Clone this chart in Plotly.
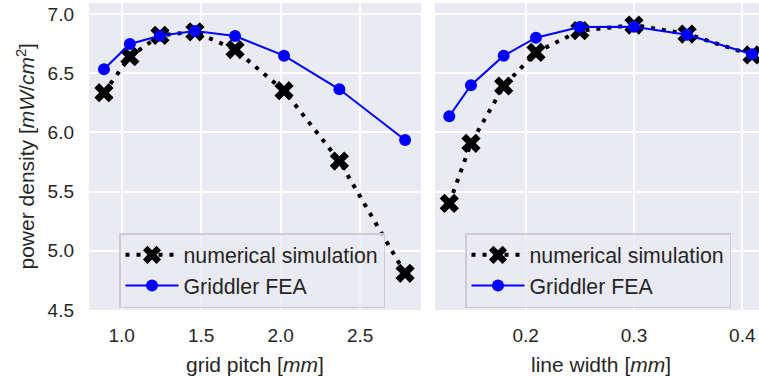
import plotly.graph_objects as go

# ---- data ----
pitch = [0.889, 1.052, 1.241, 1.461, 1.713, 2.021, 2.369, 2.782]
pitch_sim = [6.335, 6.64, 6.82, 6.85, 6.70, 6.352, 5.758, 4.81]
pitch_fea = [6.533, 6.747, 6.817, 6.856, 6.814, 6.648, 6.364, 5.936]

width = [0.1295, 0.1495, 0.1797, 0.2095, 0.250, 0.300, 0.349, 0.409]
width_sim = [5.401, 5.908, 6.392, 6.676, 6.859, 6.907, 6.831, 6.654]
width_fea = [6.136, 6.398, 6.648, 6.80, 6.89, 6.893, 6.825, 6.66]

W, H = 759, 377
BG = "#EAEAF2"
TXT = "#262626"
FONT = "Liberation Sans, Arial, sans-serif"

def px_x(p):
    return p / W

def px_y(p):
    return 1 - p / H

fig = go.Figure()

sim_style = dict(mode="lines+markers",
                 line=dict(color="black", width=4, dash="4px,7px"),
                 marker=dict(symbol="x", size=17, color="black", line=dict(width=0)))
fea_style = dict(mode="lines+markers",
                 line=dict(color="#0000FF", width=2),
                 marker=dict(symbol="circle", size=12, color="#0000FF", line=dict(width=0)))

fig.add_trace(go.Scatter(x=pitch, y=pitch_sim, name="numerical simulation",
                         xaxis="x", yaxis="y", legend="legend", **sim_style))
fig.add_trace(go.Scatter(x=pitch, y=pitch_fea, name="Griddler FEA",
                         xaxis="x", yaxis="y", legend="legend", **fea_style))
fig.add_trace(go.Scatter(x=width, y=width_sim, name="numerical simulation",
                         xaxis="x2", yaxis="y2", legend="legend2", **sim_style))
fig.add_trace(go.Scatter(x=width, y=width_fea, name="Griddler FEA",
                         xaxis="x2", yaxis="y2", legend="legend2", **fea_style))

ydom = [px_y(310), px_y(3)]
axis_common = dict(showgrid=True, gridcolor="white", gridwidth=1.6, zeroline=False,
                   showline=False, ticks="", automargin=False,
                   tickfont=dict(size=19, color=TXT, family=FONT))

leg_common = dict(bgcolor="rgba(234,234,242,0.8)", bordercolor="#CCCCCC", borderwidth=1.5,
                  font=dict(size=21.3, color=TXT, family=FONT), xanchor="left", yanchor="top",
                  tracegroupgap=0, itemwidth=53)

fig.update_layout(
    width=W, height=H,
    margin=dict(l=0, r=0, t=0, b=0, autoexpand=False),
    paper_bgcolor="white", plot_bgcolor=BG,
    font=dict(family=FONT, color=TXT),
    xaxis=dict(domain=[px_x(89), px_x(421)], range=[0.795, 2.882], dtick=0.5, tick0=0,
               tickformat=".1f", anchor="y", ticklabelstandoff=12, **axis_common),
    yaxis=dict(domain=ydom, range=[4.5, 7.093], dtick=0.5, tick0=0, tickformat=".1f",
               anchor="x", ticklabelstandoff=14, **axis_common),
    xaxis2=dict(domain=[px_x(435), 1.0], range=[0.1163, 0.4154], dtick=0.1, tick0=0,
                tickformat=".1f", anchor="y2", ticklabelstandoff=12, **axis_common),
    yaxis2=dict(domain=ydom, range=[4.5, 7.093], dtick=0.5, tick0=0, anchor="x2",
                showticklabels=False, **axis_common),
    legend=dict(x=px_x(119), y=px_y(233), **leg_common),
    legend2=dict(x=px_x(465), y=px_y(233), **leg_common),
    annotations=[
        dict(text="power density [<i>mW</i>/<i>cm</i><sup>2</sup>]", xref="paper", yref="paper",
             x=px_x(25), y=px_y(156.5), textangle=-90, showarrow=False,
             font=dict(size=21, color=TXT, family=FONT), xanchor="center", yanchor="middle"),
        dict(text="grid pitch [<i>mm</i>]", xref="paper", yref="paper",
             x=px_x(255.5), y=px_y(364), showarrow=False,
             font=dict(size=21, color=TXT, family=FONT), xanchor="center", yanchor="middle"),
        dict(text="line width [<i>mm</i>]", xref="paper", yref="paper",
             x=px_x(601), y=px_y(364), showarrow=False,
             font=dict(size=21, color=TXT, family=FONT), xanchor="center", yanchor="middle"),
    ],
)

fig.write_html("out.html", config={"displayModeBar": False},
               post_script="document.body.style.margin='0';document.body.style.overflow='hidden';")
